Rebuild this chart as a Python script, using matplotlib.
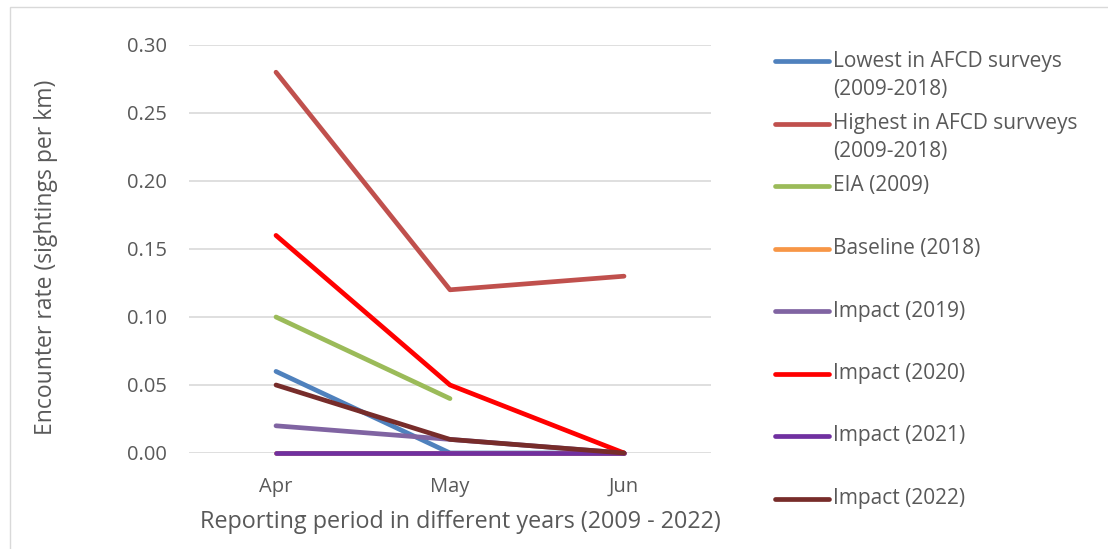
import numpy as np
import matplotlib
matplotlib.use('Agg')
import matplotlib.pyplot as plt
from matplotlib.lines import Line2D
from matplotlib.patches import Rectangle

# data
months = ['Apr', 'May', 'Jun']
series_names = ['Lowest in AFCD surveys\n(2009-2018)',
                'Highest in AFCD survveys\n(2009-2018)',
                'EIA (2009)',
                'Baseline (2018)',
                'Impact (2019)',
                'Impact (2020)',
                'Impact (2021)',
                'Impact (2022)']
lowest = [0.06, 0.0, 0.0]
highest = [0.28, 0.12, 0.13]
eia = [0.10, 0.04, np.nan]
baseline = [0.0, 0.0, 0.0]
impact_2019 = [0.02, 0.01, 0.0]
impact_2020 = [0.16, 0.05, 0.0]
impact_2021 = [0.0, 0.0, 0.0]
impact_2022 = [0.05, 0.01, 0.0]
y_ticks = [0.0, 0.05, 0.10, 0.15, 0.20, 0.25, 0.30]

series = [lowest, highest, eia, baseline, impact_2019, impact_2020, impact_2021, impact_2022]
colors = ['#4F81BD', '#C0504D', '#9BBB59', '#F79646', '#8064A2', '#FF0000', '#7030A0', '#772C2A']

txt = '#595959'
plt.rcParams['font.family'] = ['Open Sans', 'DejaVu Sans']

W, H = 1108, 549
fig = plt.figure(figsize=(W / 100, H / 100), dpi=100)
# outer chart frame (partly cropped in the original)
fig.patches.append(Rectangle((10 / W, -0.1), 1.2, (H - 7) / H + 0.1,
                             transform=fig.transFigure, fill=False,
                             edgecolor='#D9D9D9', linewidth=1.0))

ax = fig.add_axes([189 / W, 1 - 453 / H, (711 - 189) / W, (453 - 45) / H])
x = np.arange(len(months))
for vals, c in zip(series, colors):
    ax.plot(x, vals, color=c, linewidth=3.4, solid_capstyle='round',
            solid_joinstyle='round', clip_on=False)

ax.set_xlim(-0.5, 2.5)
ax.set_ylim(0, 0.30)
ax.set_yticks(y_ticks)
ax.set_yticklabels([f'{v:.2f}' for v in y_ticks])
ax.set_xticks(x)
ax.set_xticklabels(months)
ax.grid(axis='y', color='#D9D9D9', linewidth=1.2)
ax.set_axisbelow(True)
for s in ax.spines.values():
    s.set_visible(False)
ax.tick_params(length=0, labelsize=14.5, colors=txt)
ax.tick_params(axis='y', pad=16)
ax.tick_params(axis='x', pad=17)
ax.patch.set_alpha(0)

fig.text(46 / W, 1 - 257 / H, 'Encounter rate (sightings per km)', fontsize=16.5,
         color=txt, rotation=90, ha='center', va='center')
fig.text(460 / W, 1 - 522 / H, 'Reporting period in different years (2009 - 2022)',
         fontsize=16.8, color=txt, ha='center', va='center')

# legend drawn by hand to mimic spacing
y0 = 61
step = 62.5
line_gap = 28
for i, (name, c) in enumerate(zip(series_names, colors)):
    yy = y0 + i * step
    fig.add_artist(Line2D([775 / W, 829 / W], [1 - yy / H, 1 - yy / H], color=c,
                          linewidth=3.4, solid_capstyle='round', transform=fig.transFigure))
    for k, part in enumerate(name.split('\n')):
        fig.text(833 / W, 1 - (yy + k * line_gap) / H, part, fontsize=15, color=txt,
                 va='center', ha='left')

fig.savefig('out.png', dpi=100)
